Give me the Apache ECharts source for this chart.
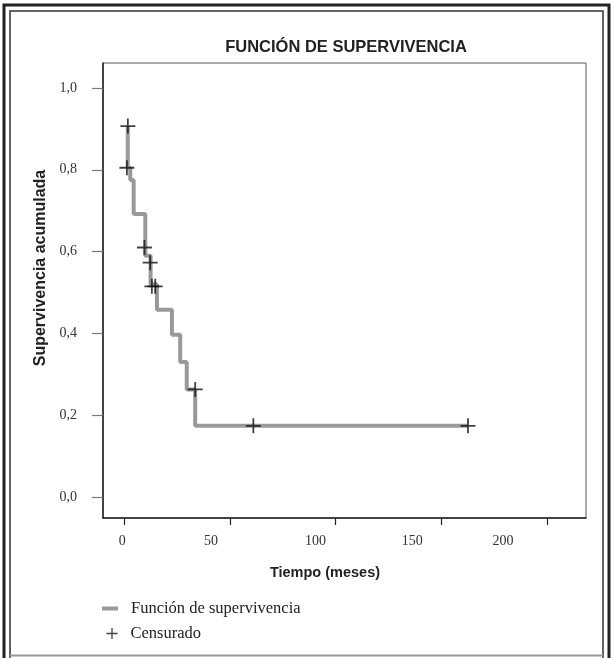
<!DOCTYPE html>
<html>
<head>
<meta charset="utf-8">
<script src="https://cdn.jsdelivr.net/npm/echarts@6/dist/echarts.min.js"></script>
<style>html,body{margin:0;padding:0;background:#fff}#c{width:614px;height:658px}</style>
</head>
<body>
<div id="c"></div>
<script>
// Step curve (Kaplan-Meier): time (months) and cumulative survival after each step
var curveTimes = [1.7, 1.7, 2.9, 4.5, 10.0, 12.5, 15.5, 22.6, 26.5, 29.6, 33.6, 162.6];
var curveSurv  = [0.907, 0.805, 0.775, 0.692, 0.59, 0.52, 0.458, 0.397, 0.33, 0.263, 0.174, 0.174];
// Censored observations
var censorTimes = [1.75, 1.3, 9.6, 12.3, 13.1, 14.7, 33.6, 61.1, 162.6];
var censorSurv  = [0.907, 0.805, 0.61, 0.573, 0.515, 0.515, 0.263, 0.174, 0.174];
// Tick labels
var xTicks = [0, 50, 100, 150, 200];
var yTicks = [0, 0.2, 0.4, 0.6, 0.8, 1.0];

var chart = echarts.init(document.getElementById('c'), null, {renderer: 'canvas'});
var cross = 'path://M0,4.4H10V5.6H0Z M4.4,0H5.6V10H4.4Z';
var xShift = [2, 19, 20, 29, 44];
var rich = {};
xTicks.forEach(function (t, i) {
  rich['s' + i] = {fontFamily: 'Liberation Serif', fontSize: 14, color: '#333', padding: [0, 2 * xShift[i], 0, 0]};
});

var option = {
  backgroundColor: '#fff',
  animation: false,
  grid: {left: 103, top: 63, width: 483, height: 455, show: true, borderColor: '#555', borderWidth: 1, backgroundColor: 'transparent'},
  xAxis: {
    type: 'value', min: -10, max: 218.4,
    splitLine: {show: false},
    axisLine: {show: true, onZero: false, lineStyle: {color: '#222', width: 1.5}},
    axisTick: {show: true, customValues: xTicks, length: 7, lineStyle: {color: '#222', width: 1.2}},
    axisLabel: {
      customValues: xTicks, margin: 16,
      formatter: function (v) { var i = xTicks.indexOf(v); return '{s' + i + '|' + v + '}'; },
      rich: rich
    }
  },
  yAxis: {
    type: 'value', min: -0.0513, max: 1.0611,
    splitLine: {show: false},
    axisLine: {show: true, onZero: false, lineStyle: {color: '#222', width: 1.5}},
    axisTick: {show: true, customValues: yTicks, length: 11, lineStyle: {color: '#777', width: 1.2}},
    axisLabel: {
      customValues: yTicks, margin: 26,
      fontFamily: 'Liberation Serif', fontSize: 14, color: '#333',
      formatter: function (v) { return v.toFixed(1).replace('.', ','); }
    }
  },
  legend: [
    {data: [{name: 'Función de supervivencia', icon: 'rect'}], left: 102, top: 600, orient: 'vertical', padding: 0,
     itemWidth: 16, itemHeight: 4,
     textStyle: {fontFamily: 'Liberation Serif', fontSize: 16.5, color: '#222', padding: [0, 0, 0, 8]}},
    {data: [{name: 'Censurado', icon: cross}], left: 106.5, top: 625, orient: 'vertical', padding: 0,
     itemWidth: 11, itemHeight: 11,
     textStyle: {fontFamily: 'Liberation Serif', fontSize: 16.5, color: '#222', padding: [0, 0, 0, 8]}}
  ],
  series: [
    {
      name: 'Función de supervivencia', type: 'line', step: 'end',
      data: curveTimes.map(function (t, i) { return [t, curveSurv[i]]; }),
      showSymbol: false, symbol: 'none',
      lineStyle: {color: '#999', width: 4},
      itemStyle: {color: '#999'}
    },
    {
      name: 'Censurado', type: 'scatter', z: 5,
      data: censorTimes.map(function (t, i) { return [t, censorSurv[i]]; }),
      symbol: cross, symbolSize: 15,
      itemStyle: {color: '#111'}
    }
  ],
  graphic: [
    {type: 'rect', shape: {x: 4, y: 5, width: 605, height: 700}, style: {fill: 'none', stroke: '#222', lineWidth: 3}, silent: true},
    {type: 'rect', shape: {x: 10, y: 11, width: 593, height: 700}, style: {fill: 'none', stroke: '#333', lineWidth: 1.5}, silent: true},
    {type: 'line', shape: {x1: 10, y1: 655.5, x2: 603, y2: 655.5}, style: {stroke: '#999', lineWidth: 2}, silent: true},
    {type: 'text', x: 346, y: 47, style: {text: 'FUNCIÓN DE SUPERVIVENCIA', font: 'bold 16.5px "Liberation Sans"', fill: '#222', textAlign: 'center', textVerticalAlign: 'middle'}},
    {type: 'text', x: 325, y: 573, style: {text: 'Tiempo (meses)', font: 'bold 14.5px "Liberation Sans"', fill: '#222', textAlign: 'center', textVerticalAlign: 'middle'}},
    {type: 'text', x: 41, y: 268, rotation: Math.PI / 2, style: {text: 'Supervivencia acumulada', font: 'bold 16px "Liberation Sans"', fill: '#222', textAlign: 'center', textVerticalAlign: 'middle'}}
  ]
};
chart.setOption(option);
</script>
</body>
</html>
